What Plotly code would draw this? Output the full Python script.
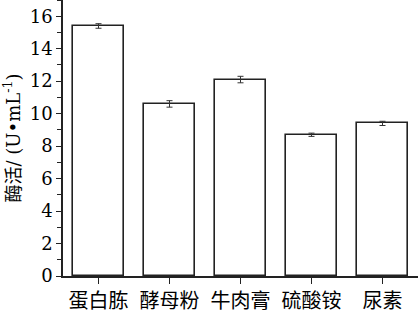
import plotly.graph_objects as go

categories = ["蛋白胨", "酵母粉", "牛肉膏", "硫酸铵", "尿素"]
values = [15.4, 10.6, 12.1, 8.7, 9.4]
errors = [0.14, 0.2, 0.2, 0.1, 0.13]
y_ticks = [0, 2, 4, 6, 8, 10, 12, 14, 16]

SERIF = "DejaVu Serif, Noto Sans CJK SC"

fig = go.Figure()
fig.add_trace(go.Bar(
    x=categories, y=values,
    width=0.71,
    marker=dict(color="white", line=dict(color="#222", width=1.6)),
    error_y=dict(type="data", array=errors, visible=True, color="#333", thickness=1, width=3),
))

fig.update_layout(
    width=420, height=313,
    margin=dict(l=63, r=2, t=0, b=37),
    plot_bgcolor="white", paper_bgcolor="white",
    showlegend=False,
    font=dict(family=SERIF, color="black", size=18),
    bargap=0,
)
fig.update_xaxes(
    range=[-0.5, 4.5],
    showline=True, linecolor="#222", linewidth=1.5,
    ticks="outside", ticklen=6, tickwidth=1.2, tickcolor="#222",
    minor=dict(ticks="outside", ticklen=3, tickwidth=1, tickcolor="#222", dtick=0.5, tick0=-0.5),
    tickfont=dict(size=20, family="Noto Sans CJK SC"),
    showgrid=False, zeroline=False,
)
fig.update_yaxes(
    range=[0, 17],
    tickvals=y_ticks,
    showline=True, linecolor="#222", linewidth=1.5,
    ticks="outside", ticklen=5, tickwidth=1.2, tickcolor="#222",
    minor=dict(ticks="outside", ticklen=4, tickwidth=1, tickcolor="#222", dtick=1, tick0=0),
    tickfont=dict(size=18, family=SERIF),
    title=dict(text="酶活/ (U•mL<sup>-1</sup>)", font=dict(size=18, family=SERIF), standoff=7),
    showgrid=False, zeroline=False,
)
fig.write_html("out.html")
